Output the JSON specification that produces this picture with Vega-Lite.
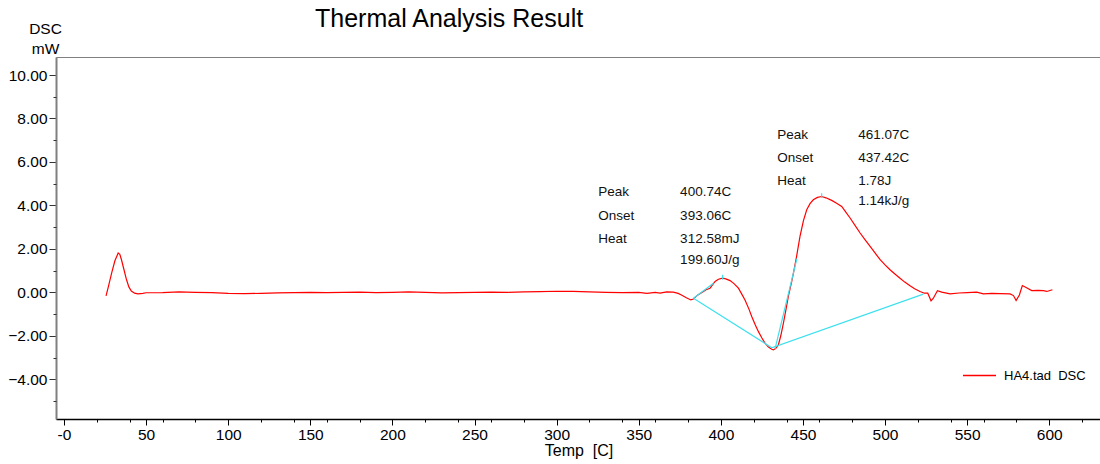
{
  "$schema": "https://vega.github.io/schema/vega-lite/v6.json",
  "width": 1045,
  "height": 362,
  "autosize": {"type": "none"},
  "padding": {"left": 56, "top": 57, "right": 0, "bottom": 45},
  "background": "white",
  "config": {"view": {"stroke": "#808080", "strokeWidth": 1}, "font": "Liberation Sans"},
  "title": {"text": "Thermal Analysis Result", "fontSize": 25, "font": "Liberation Sans", "fontWeight": "normal", "anchor": "start", "frame": "group", "dx": 259, "color": "#000", "offset": -11},
  "datasets": {
    "dsc": [
      {"T": 25.6, "mW": -0.16}, {"T": 27, "mW": 0.25}, {"T": 29, "mW": 0.88}, {"T": 31, "mW": 1.45}, {"T": 33, "mW": 1.81},
      {"T": 34, "mW": 1.75}, {"T": 35, "mW": 1.5}, {"T": 36.5, "mW": 1.05}, {"T": 38, "mW": 0.6}, {"T": 39.5, "mW": 0.25},
      {"T": 41, "mW": 0.06}, {"T": 43, "mW": -0.04}, {"T": 45, "mW": -0.07}, {"T": 48, "mW": -0.05}, {"T": 50, "mW": -0.02},
      {"T": 60, "mW": -0.01}, {"T": 70, "mW": 0.02}, {"T": 80, "mW": 0.0}, {"T": 90, "mW": -0.01}, {"T": 100, "mW": -0.05},
      {"T": 110, "mW": -0.06}, {"T": 120, "mW": -0.05}, {"T": 130, "mW": -0.03}, {"T": 140, "mW": -0.01}, {"T": 150, "mW": 0.0},
      {"T": 160, "mW": -0.01}, {"T": 170, "mW": 0.0}, {"T": 180, "mW": 0.01}, {"T": 190, "mW": -0.01}, {"T": 200, "mW": 0.0},
      {"T": 210, "mW": 0.02}, {"T": 220, "mW": 0.0}, {"T": 230, "mW": -0.03}, {"T": 240, "mW": -0.01}, {"T": 250, "mW": 0.0},
      {"T": 260, "mW": 0.01}, {"T": 270, "mW": 0.0}, {"T": 280, "mW": 0.02}, {"T": 290, "mW": 0.03}, {"T": 300, "mW": 0.05},
      {"T": 310, "mW": 0.04}, {"T": 320, "mW": 0.02}, {"T": 330, "mW": 0.0}, {"T": 340, "mW": -0.01}, {"T": 350, "mW": 0.0},
      {"T": 355, "mW": -0.05}, {"T": 360, "mW": 0.0}, {"T": 363, "mW": -0.04}, {"T": 367, "mW": 0.02}, {"T": 371, "mW": 0.01},
      {"T": 374, "mW": -0.05}, {"T": 376, "mW": -0.12}, {"T": 379, "mW": -0.25}, {"T": 381.7, "mW": -0.35}, {"T": 383.3, "mW": -0.31},
      {"T": 386, "mW": -0.12}, {"T": 389.4, "mW": 0.04}, {"T": 391, "mW": 0.12}, {"T": 393.4, "mW": 0.19}, {"T": 395, "mW": 0.35},
      {"T": 396.5, "mW": 0.5}, {"T": 398.5, "mW": 0.6}, {"T": 401.1, "mW": 0.65}, {"T": 403, "mW": 0.62}, {"T": 405.6, "mW": 0.54},
      {"T": 408, "mW": 0.4}, {"T": 410.7, "mW": 0.19}, {"T": 412.5, "mW": -0.05}, {"T": 414.7, "mW": -0.35}, {"T": 417, "mW": -0.75},
      {"T": 418.8, "mW": -1.11}, {"T": 421, "mW": -1.5}, {"T": 422.9, "mW": -1.81}, {"T": 425, "mW": -2.1}, {"T": 426.9, "mW": -2.34},
      {"T": 429, "mW": -2.52}, {"T": 431, "mW": -2.62}, {"T": 432, "mW": -2.65}, {"T": 433.5, "mW": -2.58}, {"T": 435, "mW": -2.42},
      {"T": 436.5, "mW": -2.0}, {"T": 438.1, "mW": -1.42}, {"T": 439.5, "mW": -0.85}, {"T": 441.1, "mW": -0.19}, {"T": 443, "mW": 0.45},
      {"T": 444.2, "mW": 0.88}, {"T": 446, "mW": 1.6}, {"T": 448.2, "mW": 2.57}, {"T": 450.3, "mW": 3.3}, {"T": 452.3, "mW": 3.8},
      {"T": 454.3, "mW": 4.08}, {"T": 456.3, "mW": 4.26}, {"T": 458.8, "mW": 4.37}, {"T": 461.4, "mW": 4.41}, {"T": 464, "mW": 4.35},
      {"T": 467.5, "mW": 4.23}, {"T": 470.5, "mW": 4.1}, {"T": 473.6, "mW": 3.95}, {"T": 476, "mW": 3.7}, {"T": 478.7, "mW": 3.42},
      {"T": 482, "mW": 3.05}, {"T": 484.8, "mW": 2.73}, {"T": 488, "mW": 2.4}, {"T": 490.9, "mW": 2.11}, {"T": 494, "mW": 1.8},
      {"T": 497, "mW": 1.5}, {"T": 500, "mW": 1.26}, {"T": 503, "mW": 1.04}, {"T": 506, "mW": 0.84}, {"T": 509.1, "mW": 0.65},
      {"T": 512, "mW": 0.47}, {"T": 515.2, "mW": 0.3}, {"T": 518, "mW": 0.16}, {"T": 521.3, "mW": 0.04}, {"T": 524, "mW": -0.04},
      {"T": 526, "mW": -0.04}, {"T": 528, "mW": -0.39}, {"T": 529.4, "mW": -0.27}, {"T": 531.9, "mW": 0.07}, {"T": 534.5, "mW": 0.01},
      {"T": 539.6, "mW": -0.07}, {"T": 545, "mW": -0.03}, {"T": 550, "mW": -0.01}, {"T": 555.8, "mW": 0.01}, {"T": 559.9, "mW": -0.07},
      {"T": 565, "mW": -0.05}, {"T": 570, "mW": -0.06}, {"T": 576.1, "mW": -0.07}, {"T": 578.2, "mW": -0.15}, {"T": 579.8, "mW": -0.38},
      {"T": 581.8, "mW": -0.12}, {"T": 583.6, "mW": 0.31}, {"T": 585.9, "mW": 0.22}, {"T": 589.3, "mW": 0.08}, {"T": 593, "mW": 0.09},
      {"T": 596.4, "mW": 0.08}, {"T": 598.5, "mW": 0.04}, {"T": 601.9, "mW": 0.12}
    ],
    "base": [
      {"seg": "baseline", "T": 383.3, "mW": -0.27}, {"seg": "baseline", "T": 431.0, "mW": -2.55}, {"seg": "baseline", "T": 523.3, "mW": -0.08},
      {"seg": "tangent1", "T": 383.3, "mW": -0.27}, {"seg": "tangent1", "T": 395.5, "mW": 0.42},
      {"seg": "tangent2", "T": 433.0, "mW": -2.6}, {"seg": "tangent2", "T": 446.3, "mW": 1.55}
    ],
    "peaks": [
      {"T": 401.1, "y1": 0.58, "y2": 0.81},
      {"T": 461.4, "y1": 4.34, "y2": 4.56}
    ],
    "ann": [
      {"T": 325.4, "mW": 4.62, "text": "Peak"}, {"T": 375.2, "mW": 4.62, "text": "400.74C"},
      {"T": 325.4, "mW": 3.53, "text": "Onset"}, {"T": 375.2, "mW": 3.53, "text": "393.06C"},
      {"T": 325.4, "mW": 2.47, "text": "Heat"}, {"T": 375.2, "mW": 2.47, "text": "312.58mJ"},
      {"T": 375.2, "mW": 1.5, "text": "199.60J/g"},
      {"T": 434.4, "mW": 7.26, "text": "Peak"}, {"T": 483.7, "mW": 7.26, "text": "461.07C"},
      {"T": 434.4, "mW": 6.19, "text": "Onset"}, {"T": 483.7, "mW": 6.19, "text": "437.42C"},
      {"T": 434.4, "mW": 5.11, "text": "Heat"}, {"T": 483.7, "mW": 5.11, "text": "1.78J"},
      {"T": 483.7, "mW": 4.18, "text": "1.14kJ/g"}
    ]
  },
  "resolve": {"axis": {"x": "independent", "y": "independent"}},
  "layer": [
    {
      "data": {"name": "dsc"},
      "mark": {"type": "line", "strokeWidth": 1.2, "clip": true},
      "encoding": {
        "x": {
          "field": "T", "type": "quantitative",
          "scale": {"domain": [-4.87, 631.5], "nice": false, "zero": false},
          "axis": {
            "orient": "bottom",
            "title": "Temp \u00a0[C]",
            "values": [0, 50, 100, 150, 200, 250, 300, 350, 400, 450, 500, 550, 600],
            "labelExpr": "datum.value === 0 ? '-0' : datum.label",
            "tickSize": 6,
            "grid": false,
            "domainColor": "#000", "domainWidth": 1.5,
            "tickColor": "#000", "tickWidth": 1,
            "labelFont": "Liberation Sans", "labelFontSize": 15.5, "labelColor": "#000",
            "labelOverlap": false, "labelFlush": false, "labelPadding": 2,
            "titleFont": "Liberation Sans", "titleFontSize": 16, "titleFontWeight": "normal", "titleColor": "#000", "titlePadding": 0
          }
        },
        "y": {
          "field": "mW", "type": "quantitative",
          "scale": {"domain": [-5.83, 10.83], "nice": false, "zero": false},
          "axis": {
            "orient": "left",
            "title": ["DSC", "mW"],
            "titleAngle": 0, "titleAlign": "center", "titleBaseline": "alphabetic",
            "titleX": -11, "titleY": -24, "titleLineHeight": 20,
            "titleFont": "Liberation Sans", "titleFontSize": 15.5, "titleFontWeight": "normal", "titleColor": "#000",
            "values": [-4, -2, 0, 2, 4, 6, 8, 10],
            "format": ".2f",
            "tickSize": 7,
            "grid": false,
            "domainColor": "#808080", "domainWidth": 2,
            "tickColor": "#333", "tickWidth": 1,
            "labelFont": "Liberation Sans", "labelFontSize": 15.5, "labelColor": "#000",
            "labelOverlap": false, "labelPadding": 2
          }
        },
        "color": {
          "datum": "HA4.tad \u00a0DSC",
          "scale": {"range": ["#ff0000"]},
          "legend": {
            "orient": "none", "legendX": 906, "legendY": 301, "title": null,
            "symbolType": "stroke", "symbolStrokeWidth": 1.5, "symbolSize": 1090,
            "labelFont": "Liberation Sans", "labelFontSize": 13, "labelColor": "#000", "labelOffset": 7
          }
        }
      }
    },
    {
      "data": {"name": "base"},
      "mark": {"type": "line", "color": "#3fe0ee", "strokeWidth": 1.2},
      "encoding": {
        "x": {
          "field": "T", "type": "quantitative",
          "axis": {
            "orient": "bottom", "title": null, "labels": false, "domain": false, "grid": false,
            "values": [20, 40, 60, 80, 120, 140, 160, 180, 220, 240, 260, 280, 320, 340, 360, 380, 420, 440, 460, 480, 520, 540, 560, 580, 620],
            "tickSize": 3, "tickColor": "#000", "tickWidth": 1
          }
        },
        "y": {
          "field": "mW", "type": "quantitative",
          "axis": {
            "orient": "left", "title": null, "labels": false, "domain": false, "grid": false,
            "values": [-5, -3, -1, 1, 3, 5, 7, 9],
            "tickSize": 3, "tickColor": "#333", "tickWidth": 1
          }
        },
        "detail": {"field": "seg"}
      }
    },
    {
      "data": {"name": "peaks"},
      "mark": {"type": "rule", "color": "#3fe0ee", "strokeWidth": 1.2},
      "encoding": {
        "x": {"field": "T", "type": "quantitative", "axis": null},
        "y": {"field": "y1", "type": "quantitative", "axis": null},
        "y2": {"field": "y2"}
      }
    },
    {
      "data": {"name": "ann"},
      "mark": {"type": "text", "align": "left", "baseline": "middle", "font": "Liberation Sans", "fontSize": 13.5, "color": "#111"},
      "encoding": {
        "x": {"field": "T", "type": "quantitative", "axis": null},
        "y": {"field": "mW", "type": "quantitative", "axis": null},
        "text": {"field": "text"}
      }
    }
  ]
}
